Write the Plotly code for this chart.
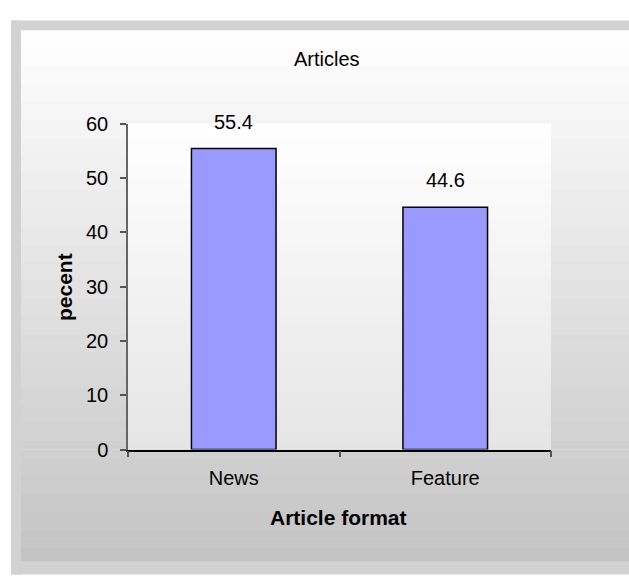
import plotly.graph_objects as go

categories = ["News", "Feature"]
values = [55.4, 44.6]
y_ticks = [0, 10, 20, 30, 40, 50, 60]
title_text = "Articles"
x_title = "Article format"
y_title = "pecent"

W, H = 629, 576
PL, PR, PT, PB = 128, 551, 117, 456  # plot area in pixels

def px(x):
    return x / W

def py(y):
    return 1 - y / H

FONT = "Liberation Sans, Arial, sans-serif"

fig = go.Figure()
fig.add_trace(go.Bar(
    x=categories, y=values,
    marker=dict(color="#9999FF", line=dict(color="black", width=1.5)),
    width=0.4,
    hoverinfo="skip",
))

shapes = []
# chart-area gradient (white -> grey)
n = 60
top, bot = 20, 576
for i in range(n):
    y0 = top + (bot - top) * i / n
    y1 = top + (bot - top) * (i + 1) / n + 0.5
    t = (i + 0.5) / n
    c = int(round(255 - (255 - 195) * t))
    shapes.append(dict(type="rect", xref="paper", yref="paper",
                       x0=px(21), x1=px(W + 5), y0=py(y1), y1=py(y0),
                       fillcolor=f"rgb({c},{c},{c})", line=dict(width=0),
                       layer="below"))
# plot-area gradient (white -> light grey)
n2 = 40
for i in range(n2):
    y0 = PT + (PB - PT) * i / n2
    y1 = PT + (PB - PT) * (i + 1) / n2 + 0.5
    t = (i + 0.5) / n2
    c = int(round(255 - (255 - 229) * t))
    shapes.append(dict(type="rect", xref="paper", yref="paper",
                       x0=px(PL), x1=px(PR), y0=py(min(y1, PB)), y1=py(y0),
                       fillcolor=f"rgb({c},{c},{c})", line=dict(width=0),
                       layer="below"))
# outer patterned frame (left, top, bottom strips)
frame = "#D2D2D2"
shapes.append(dict(type="rect", xref="paper", yref="paper",
                   x0=px(11), x1=px(21), y0=py(H + 10), y1=py(10),
                   fillcolor=frame, line=dict(width=0), layer="below"))
shapes.append(dict(type="rect", xref="paper", yref="paper",
                   x0=px(11), x1=px(W + 10), y0=py(20), y1=py(10),
                   fillcolor=frame, line=dict(width=0), layer="below"))
shapes.append(dict(type="rect", xref="paper", yref="paper",
                   x0=px(11), x1=px(W + 10), y0=py(H + 10), y1=py(572),
                   fillcolor=frame, line=dict(width=0), layer="below"))

annotations = [
    dict(text=title_text, x=px(327), y=py(50), xref="paper", yref="paper",
         showarrow=False, xanchor="center", yanchor="middle",
         font=dict(family=FONT, size=20, color="black")),
    dict(text=f"<b>{x_title}</b>", x=px(338), y=py(527), xref="paper", yref="paper",
         showarrow=False, xanchor="center", yanchor="middle",
         font=dict(family=FONT, size=21, color="black")),
    dict(text=f"<b>{y_title}</b>", x=px(64), y=py(287), xref="paper", yref="paper",
         showarrow=False, xanchor="center", yanchor="middle", textangle=-90,
         font=dict(family=FONT, size=21, color="black")),
]
for c, v in zip(categories, values):
    annotations.append(dict(text=f"{v:.1f}", x=c, y=v, xref="x", yref="y",
                            showarrow=False, xanchor="center", yanchor="middle",
                            yshift=27,
                            font=dict(family=FONT, size=20, color="black")))

fig.update_layout(
    width=W, height=H,
    margin=dict(l=0, r=0, t=0, b=0),
    paper_bgcolor="white",
    plot_bgcolor="rgba(0,0,0,0)",
    showlegend=False,
    bargap=0.6,
    shapes=shapes,
    annotations=annotations,
    font=dict(family=FONT, size=20, color="black"),
    xaxis=dict(
        domain=[px(PL), px(PR)],
        type="category",
        showline=True, linecolor="black", linewidth=1.5,
        ticks="outside", tickson="boundaries", ticklen=6, tickcolor="#555",
        tickwidth=1.5, ticklabelstandoff=10,
        showgrid=False, zeroline=False,
        tickfont=dict(family=FONT, size=20, color="black"),
        fixedrange=True,
    ),
    yaxis=dict(
        domain=[py(PB), py(PT)],
        range=[0, 60],
        tickvals=y_ticks,
        showline=True, linecolor="#666", linewidth=1.5,
        ticks="outside", ticklen=6, tickcolor="#555", tickwidth=1.5,
        ticklabelstandoff=8,
        showgrid=False, zeroline=False,
        tickfont=dict(family=FONT, size=20, color="black"),
        fixedrange=True,
    ),
)

fig.write_html("out.html", config={"displayModeBar": False},
               post_script="document.body.style.margin='0';document.body.style.overflow='hidden';")
